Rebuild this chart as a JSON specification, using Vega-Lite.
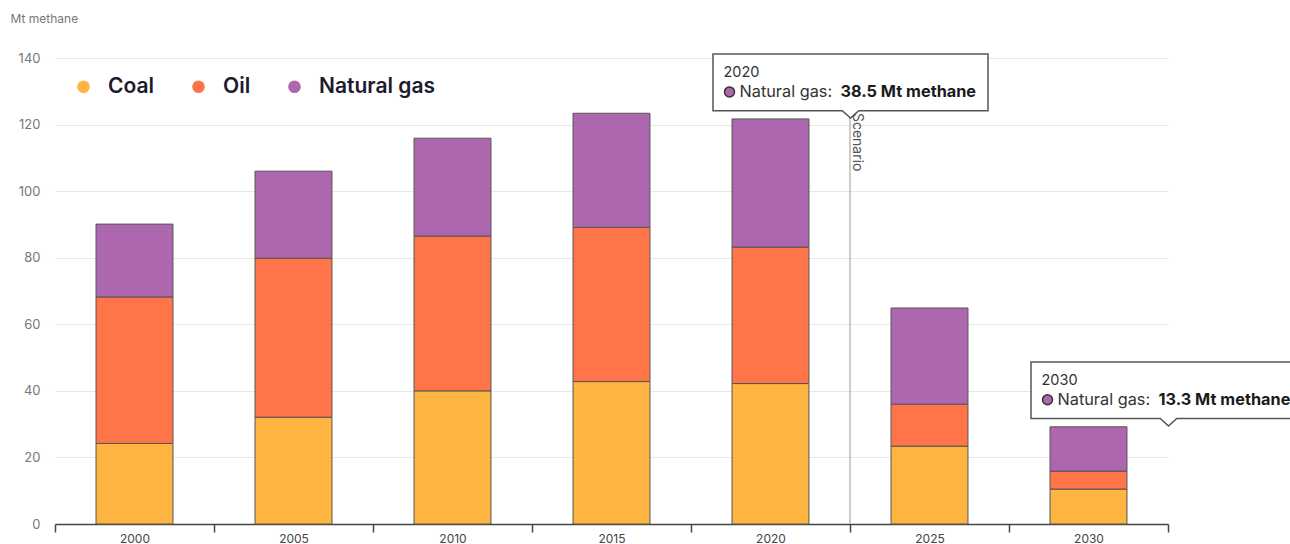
{
  "$schema": "https://vega.github.io/schema/vega-lite/v6.json",
  "width": 1113,
  "height": 466,
  "autosize": {"type": "none"},
  "padding": {"left": 55, "top": 58, "right": 122, "bottom": 20},
  "background": "white",
  "config": {"view": {"stroke": null}, "font": "Inter"},
  "data": {
    "values": [
      {"year": 2000, "category": "Coal", "value": 24.2},
      {"year": 2000, "category": "Oil", "value": 44.0},
      {"year": 2000, "category": "Natural gas", "value": 21.9},
      {"year": 2005, "category": "Coal", "value": 32.1},
      {"year": 2005, "category": "Oil", "value": 47.8},
      {"year": 2005, "category": "Natural gas", "value": 26.1},
      {"year": 2010, "category": "Coal", "value": 40.0},
      {"year": 2010, "category": "Oil", "value": 46.5},
      {"year": 2010, "category": "Natural gas", "value": 29.4},
      {"year": 2015, "category": "Coal", "value": 42.8},
      {"year": 2015, "category": "Oil", "value": 46.3},
      {"year": 2015, "category": "Natural gas", "value": 34.3},
      {"year": 2020, "category": "Coal", "value": 42.2},
      {"year": 2020, "category": "Oil", "value": 41.0},
      {"year": 2020, "category": "Natural gas", "value": 38.5},
      {"year": 2025, "category": "Coal", "value": 23.4},
      {"year": 2025, "category": "Oil", "value": 12.6},
      {"year": 2025, "category": "Natural gas", "value": 28.9},
      {"year": 2030, "category": "Coal", "value": 10.5},
      {"year": 2030, "category": "Oil", "value": 5.4},
      {"year": 2030, "category": "Natural gas", "value": 13.3}
    ]
  },
  "layer": [
    {
      "transform": [
        {"calculate": "indexof(['Coal', 'Oil', 'Natural gas'], datum.category)", "as": "stackOrder"}
      ],
      "mark": {"type": "bar", "width": {"band": 0.484}, "stroke": "#555", "strokeWidth": 1},
      "encoding": {
        "x": {
          "field": "year", "type": "nominal",
          "scale": {"paddingInner": 0, "paddingOuter": 0},
          "axis": {"title": null, "labelAngle": 0, "tickBand": "extent", "domainColor": "#444", "domainWidth": 1.5, "tickColor": "#444", "tickWidth": 1.5, "tickSize": 8, "labelColor": "#444", "labelFontSize": 12, "labelPadding": 1, "grid": false}
        },
        "y": {
          "field": "value", "type": "quantitative", "stack": "zero",
          "scale": {"domain": [0, 140], "nice": false},
          "axis": {"title": "Mt methane", "titleAngle": 0, "titleX": -45, "titleY": -40, "titleAlign": "left", "titleBaseline": "middle", "titleColor": "#777", "titleFontSize": 12, "titleFontWeight": "normal", "values": [0, 20, 40, 60, 80, 100, 120, 140], "domain": false, "ticks": false, "labelColor": "#777", "labelFontSize": 13, "labelPadding": 15, "gridColor": "#e8e8e8", "gridWidth": 1}
        },
        "order": {"field": "stackOrder", "type": "quantitative", "sort": "ascending"},
        "color": {
          "field": "category", "type": "nominal",
          "sort": ["Coal", "Oil", "Natural gas"],
          "scale": {"domain": ["Coal", "Oil", "Natural gas"], "range": ["#FDB440", "#FF7449", "#AD67AF"]},
          "legend": {"title": null, "orient": "none", "legendX": 18, "legendY": 18, "direction": "horizontal", "symbolType": "circle", "symbolSize": 160, "symbolStrokeWidth": 0, "symbolOpacity": 1, "labelFontSize": 21, "labelFontWeight": 600, "labelColor": "#1b1b2f", "labelOffset": 14, "columnPadding": 33}
        }
      }
    },
    {
      "data": {"values": [{}]},
      "mark": {"type": "rule", "color": "#aaa", "strokeWidth": 1.2},
      "encoding": {
        "x": {"datum": 2025, "type": "nominal", "bandPosition": 0},
        "y": {"datum": 0, "type": "quantitative"},
        "y2": {"datum": 140}
      }
    },
    {
      "data": {"values": [{}]},
      "mark": {"type": "text", "text": "Scenario", "angle": 90, "align": "left", "baseline": "bottom", "fontSize": 14, "color": "#555"},
      "encoding": {
        "x": {"datum": 2025, "type": "nominal", "bandPosition": 0},
        "y": {"datum": 123.5, "type": "quantitative"}
      }
    },
    {
      "transform": [
        {"joinaggregate": [{"op": "sum", "field": "value", "as": "total"}], "groupby": ["year"]},
        {"filter": "datum.category === 'Natural gas' && (datum.year === 2020 || datum.year === 2030)"},
        {"calculate": "datum.category + ':'", "as": "catlabel"},
        {"calculate": "format(datum.value, '.1f') + ' Mt methane'", "as": "vallabel"}
      ],
      "encoding": {
        "x": {"field": "year", "type": "nominal"},
        "y": {"field": "total", "type": "quantitative", "title": "Mt methane"}
      },
      "layer": [
        {"mark": {"type": "point", "shape": "M-1,-0.206L1,-0.206L1,0.206L0.06,0.206L0,0.26L-0.06,0.206L-1,0.206Z", "size": 75625, "filled": true, "fill": "white", "stroke": "#555", "strokeWidth": 1.5, "opacity": 1, "xOffset": 80, "yOffset": -36.6}},
        {"mark": {"type": "text", "align": "left", "baseline": "middle", "fontSize": 14.5, "color": "#333", "xOffset": -47, "yOffset": -46}, "encoding": {"text": {"field": "year"}}},
        {"mark": {"type": "point", "shape": "circle", "size": 100, "filled": true, "fill": "#AD67AF", "stroke": "#333", "strokeWidth": 1.5, "opacity": 1, "xOffset": -41, "yOffset": -27}},
        {"mark": {"type": "text", "align": "left", "baseline": "middle", "fontSize": 16.3, "color": "#333", "xOffset": -31, "yOffset": -27}, "encoding": {"text": {"field": "catlabel"}}},
        {"mark": {"type": "text", "align": "left", "baseline": "middle", "fontSize": 16.3, "fontWeight": "bold", "color": "#1a1a1a", "xOffset": 70, "yOffset": -27}, "encoding": {"text": {"field": "vallabel"}}}
      ]
    }
  ]
}
